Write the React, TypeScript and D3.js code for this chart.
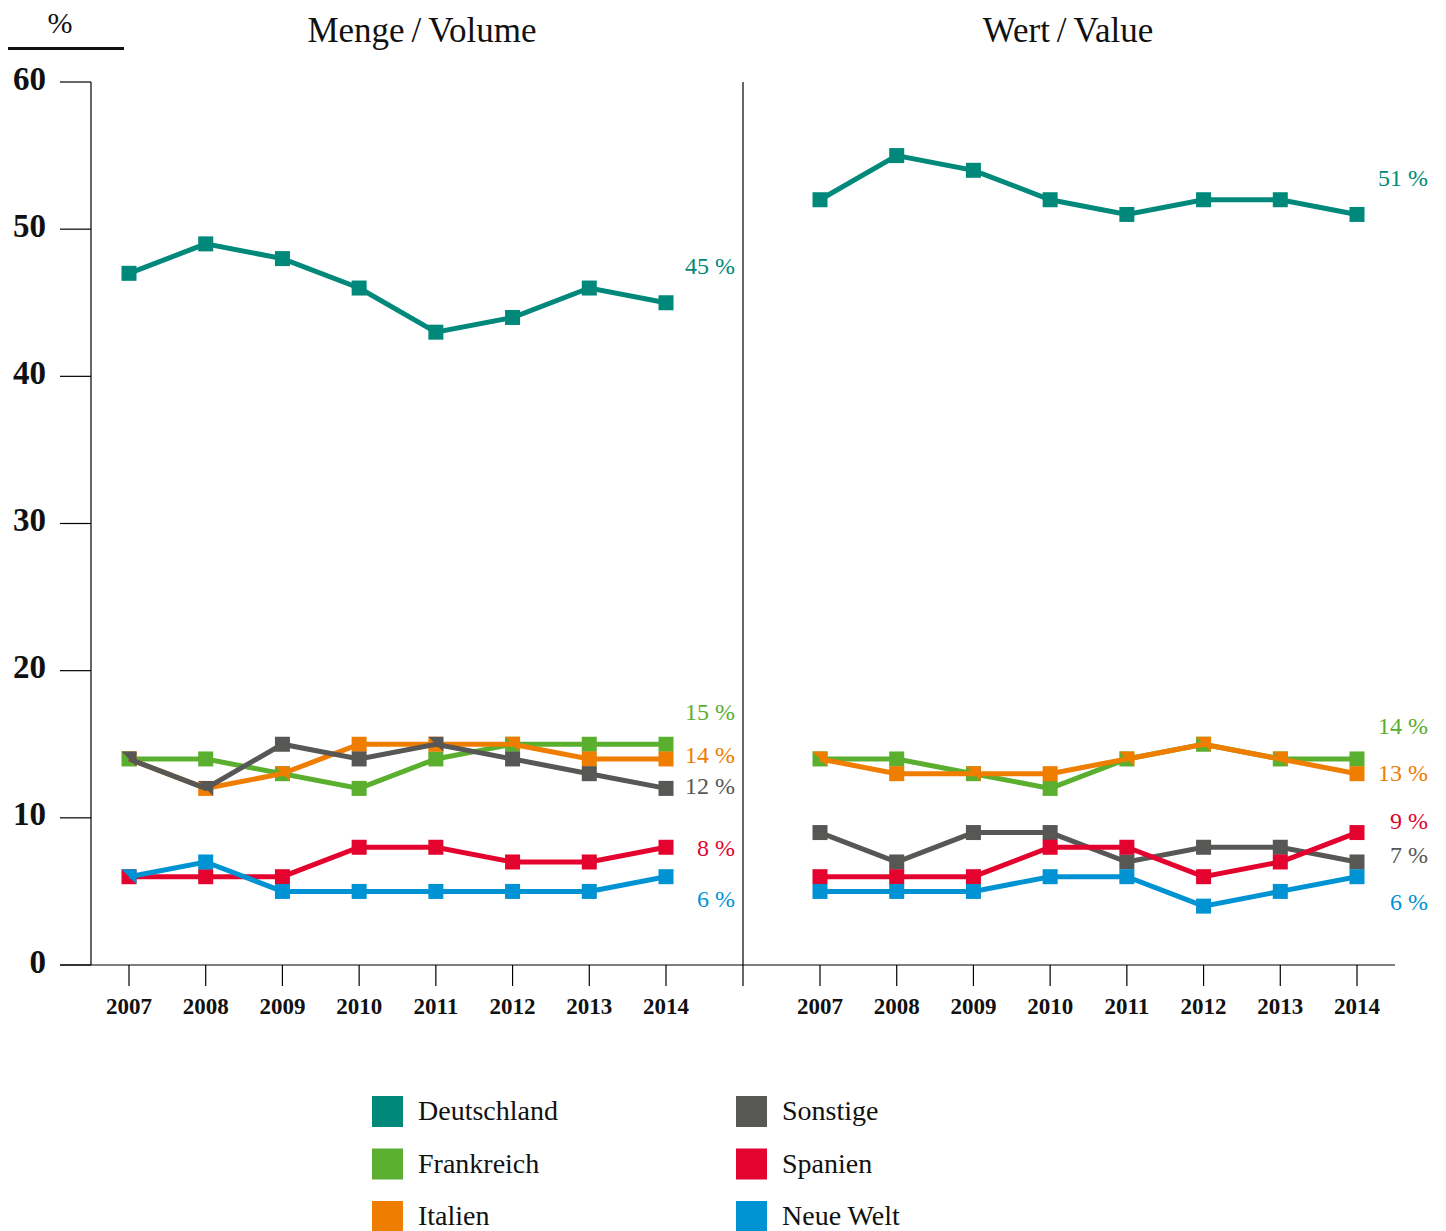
import React from "react";
import * as d3 from "d3";

const years = ["2007", "2008", "2009", "2010", "2011", "2012", "2013", "2014"];
const seriesNames = ["Deutschland", "Frankreich", "Italien", "Sonstige", "Spanien", "Neue Welt"];
const seriesColors = ["#00897B", "#5BAF2F", "#EF7D00", "#575756", "#E3032E", "#0093D3"];

// Menge / Volume
const volDeutschland = [47, 49, 48, 46, 43, 44, 46, 45];
const volFrankreich = [14, 14, 13, 12, 14, 15, 15, 15];
const volItalien = [14, 12, 13, 15, 15, 15, 14, 14];
const volSonstige = [14, 12, 15, 14, 15, 14, 13, 12];
const volSpanien = [6, 6, 6, 8, 8, 7, 7, 8];
const volNeueWelt = [6, 7, 5, 5, 5, 5, 5, 6];

// Wert / Value
const valDeutschland = [52, 55, 54, 52, 51, 52, 52, 51];
const valFrankreich = [14, 14, 13, 12, 14, 15, 14, 14];
const valItalien = [14, 13, 13, 13, 14, 15, 14, 13];
const valSonstige = [9, 7, 9, 9, 7, 8, 8, 7];
const valSpanien = [6, 6, 6, 8, 8, 6, 7, 9];
const valNeueWelt = [5, 5, 5, 6, 6, 4, 5, 6];

const yTicks = [0, 10, 20, 30, 40, 50, 60];

// display position (data units) of each series' end label
const volLabelPos = [47.3, 17.0, 14.1, 12.0, 7.8, 4.3];
const valLabelPos = [53.3, 16.1, 12.9, 7.3, 9.6, 4.1];

const FONT = "'Liberation Serif', 'DejaVu Serif', serif";

export default function App() {
  const W = 1446, H = 1231;
  const y = d3.scaleLinear().domain([0, 60]).range([965, 82]);
  const xL = d3.scalePoint<string>().domain(years).range([129, 666]);
  const xR = d3.scalePoint<string>().domain(years).range([820, 1357]);
  const vol = [volDeutschland, volFrankreich, volItalien, volSonstige, volSpanien, volNeueWelt];
  const val = [valDeutschland, valFrankreich, valItalien, valSonstige, valSpanien, valNeueWelt];
  const m = 7.5;

  const panel = (data: number[][], x: d3.ScalePoint<string>, labelPos: number[], labelX: number, key: string) => {
    const line = d3.line<number>().x((_, i) => x(years[i])!).y((d) => y(d));
    return (
      <g key={key}>
        {data.map((s, si) => (
          <g key={si}>
            <path d={line(s) || ""} fill="none" stroke={seriesColors[si]} strokeWidth={5} strokeLinejoin="miter" />
            {s.map((v, i) => {
              const cx = x(years[i])!;
              const cy = y(v);
              const shared = si > 0 && data.slice(1, si).some((o) => o[i] === v);
              if (shared) {
                return (
                  <path
                    key={i}
                    d={`M${cx - m},${cy - m}L${cx + m},${cy - m}L${cx + m},${cy + m}Z`}
                    fill={seriesColors[si]}
                  />
                );
              }
              return <rect key={i} x={cx - m} y={cy - m} width={2 * m} height={2 * m} fill={seriesColors[si]} />;
            })}
          </g>
        ))}
        {data.map((s, si) => (
          <text
            key={"l" + si}
            x={labelX}
            y={y(labelPos[si])}
            textAnchor="end"
            dominantBaseline="middle"
            fontFamily={FONT}
            fontSize={24}
            fill={seriesColors[si]}
          >
            {s[s.length - 1]} %
          </text>
        ))}
        {years.map((yr) => (
          <g key={"t" + yr}>
            <line x1={x(yr)} x2={x(yr)} y1={965} y2={986} stroke="#000" strokeWidth={1.2} />
            <text x={x(yr)} y={1014} textAnchor="middle" fontFamily={FONT} fontWeight="bold" fontSize={23} fill="#111">
              {yr}
            </text>
          </g>
        ))}
      </g>
    );
  };

  const legendItems = seriesNames.map((n, i) => ({
    name: n,
    color: seriesColors[i],
    col: Math.floor(i / 3),
    row: i % 3,
  }));

  return (
    <svg width={W} height={H} style={{ position: "absolute", left: 0, top: 0, background: "#fff" }}>
      <text x={60} y={33} textAnchor="middle" fontFamily={FONT} fontSize={30} fill="#111">%</text>
      <line x1={8} x2={124} y1={48.5} y2={48.5} stroke="#111" strokeWidth={3} />
      <text x={422} y={42} textAnchor="middle" fontFamily={FONT} fontSize={35} fill="#111">{"Menge\u2009/\u2009Volume"}</text>
      <text x={1068} y={42} textAnchor="middle" fontFamily={FONT} fontSize={35} fill="#111">{"Wert\u2009/\u2009Value"}</text>
      <line x1={91} x2={91} y1={y(60)} y2={y(0)} stroke="#000" strokeWidth={1.2} />
      {yTicks.map((t) => (
        <g key={t}>
          <line x1={60} x2={91} y1={y(t)} y2={y(t)} stroke="#000" strokeWidth={1.2} />
          <text x={46} y={y(t)} textAnchor="end" dominantBaseline="middle" fontFamily={FONT} fontWeight="bold" fontSize={33} fill="#111">
            {t}
          </text>
        </g>
      ))}
      <line x1={60} x2={1395} y1={y(0)} y2={y(0)} stroke="#000" strokeWidth={1.2} />
      <line x1={743} x2={743} y1={y(60)} y2={986} stroke="#000" strokeWidth={1.2} />
      {panel(vol, xL, volLabelPos, 735, "vol")}
      {panel(val, xR, valLabelPos, 1428, "val")}
      {legendItems.map((it) => {
        const lx = it.col === 0 ? 372 : 736;
        const ly = 1096 + it.row * 52.5;
        return (
          <g key={it.name}>
            <rect x={lx} y={ly} width={31} height={31} fill={it.color} />
            <text x={lx + 46} y={ly + 18} dominantBaseline="middle" fontFamily={FONT} fontSize={28} fill="#111">
              {it.name}
            </text>
          </g>
        );
      })}
    </svg>
  );
}
